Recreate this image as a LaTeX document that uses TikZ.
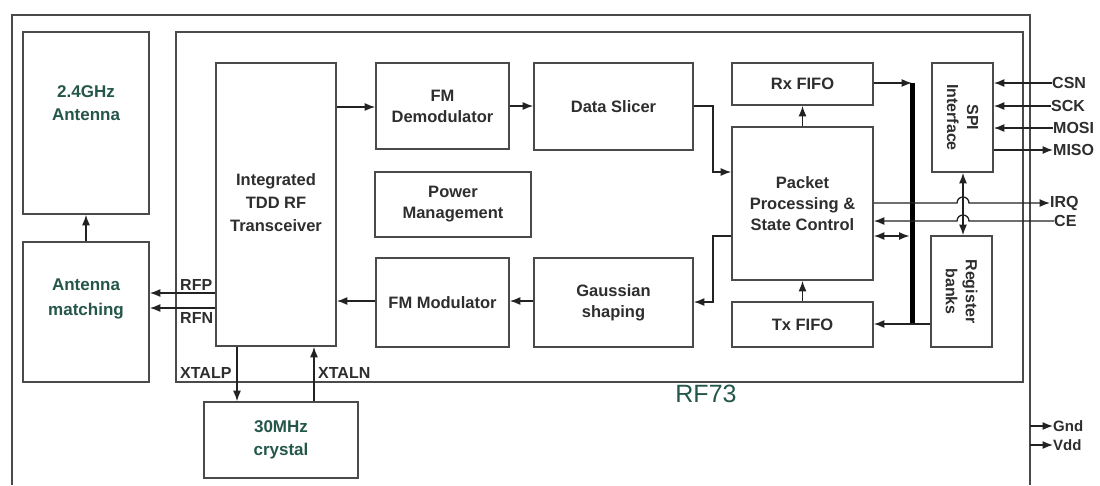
\documentclass[tikz,border=0pt]{standalone}
\usepackage{fontspec}
\setmainfont{Liberation Sans}
\usetikzlibrary{arrows.meta}
\definecolor{boxc}{HTML}{4A4A4A}
\definecolor{linec}{HTML}{222222}
\definecolor{txtc}{HTML}{2E2E2E}
\definecolor{teal}{HTML}{24574A}
\tikzset{
  box/.style={draw=boxc, line width=1.7pt, fill=white, inner sep=0pt},
  lbl/.style={text=txtc, font=\bfseries\fontsize{16.5}{21}\selectfont, align=center, inner sep=0pt},
  tlbl/.style={text=teal, font=\bfseries\fontsize{17}{23}\selectfont, align=center, inner sep=0pt},
  pin/.style={text=txtc, font=\bfseries\fontsize{16}{18}\selectfont, inner sep=0pt},
  conn/.style={draw=linec, line width=1.3pt},
  arr/.style={conn, -{Latex[length=10.5pt,width=8pt]}},
  darr/.style={conn, {Latex[length=10.5pt,width=8pt]}-{Latex[length=10.5pt,width=8pt]}},
  frame/.style={draw=boxc, line width=1.7pt},
}
\begin{document}
\begin{tikzpicture}[x=1pt,y=-1pt]
\useasboundingbox[fill=white] (0,0) rectangle (1100,485);
% outer frame and chip
\draw[frame] (12,485) -- (12,15) -- (1030,15) -- (1030,485);
\draw[frame] (176,32) rectangle (1023,382);
\node[text=teal, font=\fontsize{25}{25}\selectfont, inner sep=0pt] (rf73) at (706,394) {RF73};

% boxes
\node[box, minimum width=126pt, minimum height=182pt] (ant) at (86,123) {};
\node[tlbl] (antt) at (86,103) {2.4GHz\\Antenna};
\node[box, minimum width=126pt, minimum height=140pt] (match) at (86,312) {};
\node[tlbl, font=\bfseries\fontsize{17}{25}\selectfont] (matcht) at (86,299) {Antenna\\matching};
\node[box, minimum width=120pt, minimum height=283pt] (trx) at (276,204.5) {};
\node[lbl, font=\bfseries\fontsize{16.5}{23}\selectfont] (trxt) at (276,203) {Integrated\\TDD RF\\Transceiver};
\node[box, minimum width=154pt, minimum height=76pt, tlbl] (xtal) at (281,440) {30MHz\\crystal};
\node[box, minimum width=133pt, minimum height=86pt, lbl] (fmd) at (442.5,106) {FM\\Demodulator};
\node[box, minimum width=159pt, minimum height=87pt, lbl] (ds) at (613.5,106.5) {Data Slicer};
\node[box, minimum width=156pt, minimum height=65pt, lbl] (pm) at (453,204.5) {Power\\Management};
\node[box, minimum width=133pt, minimum height=89pt, lbl] (fmm) at (442.5,302.5) {FM Modulator};
\node[box, minimum width=159pt, minimum height=89pt, lbl] (gs) at (613.5,302.5) {Gaussian\\shaping};
\node[box, minimum width=141pt, minimum height=42pt, lbl] (rx) at (802.5,84) {Rx FIFO};
\node[box, minimum width=141pt, minimum height=153pt, lbl] (pp) at (802.5,203.5) {Packet\\Processing \&\\State Control};
\node[box, minimum width=141pt, minimum height=45pt, lbl] (tx) at (802.5,324.5) {Tx FIFO};
\node[box, minimum width=61pt, minimum height=109pt] (spi) at (962.5,117.5) {};
\node[lbl, rotate=-90, font=\bfseries\fontsize{16}{20}\selectfont] (spit) at (962.5,117.5) {SPI\\Interface};
\node[box, minimum width=61pt, minimum height=111pt] (reg) at (961.5,291.5) {};
\node[lbl, rotate=-90, font=\bfseries\fontsize{16}{20}\selectfont] (regt) at (961.5,291.5) {Register\\banks};

% coordinates
\coordinate (busT) at (912,83);
\coordinate (busB) at (912,324);

% left side connectors
\draw[arr] (trx.west |- 0,293) -- (match.east |- 0,293);
\draw[arr] (trx.west |- 0,308) -- (match.east |- 0,308);
\draw[arr] (match.north) -- (ant.south);
\node[pin, anchor=west] (rfp) at (180,285) {RFP};
\node[pin, anchor=west] (rfn) at (180,318) {RFN};
\draw[arr] (237,0 |- trx.south) -- (237,0 |- xtal.north);
\draw[arr] (314,0 |- xtal.north) -- (314,0 |- trx.south);
\node[pin, anchor=west] (xtalp) at (180,373) {XTALP};
\node[pin, anchor=west] (xtaln) at (318,373) {XTALN};

% RX path
\draw[arr] (trx.east |- 0,107) -- (fmd.west |- 0,107);
\draw[arr] (fmd.east |- 0,106) -- (ds.west |- 0,106);
\draw[arr] (ds.east |- 0,106) -- (713,106) -- (713,172) -- (pp.west |- 0,172);
\draw[arr] (pp.west |- 0,236) -- (713,236) -- (713,302) -- (gs.east |- 0,302);
\draw[arr] (gs.west |- 0,301) -- (fmm.east |- 0,301);
\draw[arr] (fmm.west |- 0,301) -- (trx.east |- 0,301);
\draw[arr] (pp.north) -- (rx.south);
\draw[arr] (tx.north) -- (pp.south);

% bus
\draw[arr] (rx.east |- busT) -- (busT);
\draw[draw=black, line width=5pt] (busT) -- (busB);
\draw[arr] (busB) -- (tx.east |- busB);
\draw[conn] (reg.west |- busB) -- (busB);
\draw[darr] (pp.east |- 0,236) -- (909.5,236);

% IRQ / CE with hops
\draw[arr] (pp.east |- 0,203) -- (957,203) arc[start angle=180, end angle=0, radius=6pt] -- (1050,203);
\node[pin, anchor=west] (irq) at (1050,203) {IRQ};
\node[pin, anchor=west] (ce) at (1054,221) {CE};
\draw[arr] (ce.west) -- (969,221) arc[start angle=0, end angle=180, radius=6pt] -- (pp.east |- 0,221);
\draw[darr] (963,0 |- spi.south) -- (963,0 |- reg.north);

% SPI pins
\node[pin, anchor=west] (csn) at (1052,83) {CSN};
\node[pin, anchor=west] (sck) at (1051,106) {SCK};
\node[pin, anchor=west] (mosi) at (1053,128) {MOSI};
\node[pin, anchor=west] (miso) at (1053,150) {MISO};
\draw[arr] (csn.west) -- (spi.east |- csn.west);
\draw[arr] (sck.west) -- (spi.east |- sck.west);
\draw[arr] (mosi.west) -- (spi.east |- mosi.west);
\draw[arr] (spi.east |- miso.west) -- (miso.west);

% power pins
\node[pin, anchor=west, font=\bfseries\fontsize{15}{17}\selectfont] (gnd) at (1053,426) {Gnd};
\node[pin, anchor=west, font=\bfseries\fontsize{15}{17}\selectfont] (vdd) at (1053,445) {Vdd};
\draw[arr] (1030,0 |- gnd.west) -- (gnd.west);
\draw[arr] (1030,0 |- vdd.west) -- (vdd.west);
\end{tikzpicture}
\end{document}
